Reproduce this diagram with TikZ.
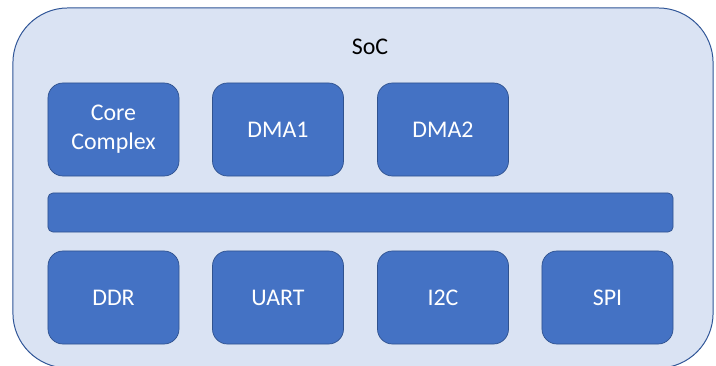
\documentclass[tikz,border=0pt]{standalone}
\usepackage{fontspec}
\setmainfont{Carlito}
\definecolor{socfill}{HTML}{DAE3F3}
\definecolor{socline}{HTML}{2F5597}
\definecolor{blockfill}{HTML}{4472C4}
\definecolor{blockline}{HTML}{2F528F}
\tikzset{
  soc/.style={draw=socline, fill=socfill, line width=0.7pt, rounded corners=1.375cm,
    minimum width=17.5cm, minimum height=9cm, inner sep=0pt},
  block/.style={draw=blockline, fill=blockfill, line width=0.5pt, rounded corners=0.375cm,
    minimum width=3.275cm, minimum height=2.325cm, inner sep=0pt, align=center,
    text=white, font=\fontsize{17}{20.6}\selectfont},
  busbar/.style={draw=blockline, fill=blockfill, line width=0.5pt, rounded corners=0.125cm,
    minimum width=15.625cm, minimum height=0.975cm, inner sep=0pt}
}
\begin{document}
\begin{tikzpicture}[x=0.025cm,y=-0.025cm]
        \useasboundingbox (0, 0) rectangle (716, 366);

        % SoC outline (its bottom edge runs off the page)
        \node[soc] (soc) at (363, 188) {};
        \node[font=\fontsize{17}{20.6}\selectfont] (soclabel) at (370, 47) {SoC};

        % Top row: masters
        \node[block] (core) at (113.5, 129.5) {Core\\Complex};
        \node[block] (dmaone) at (278, 129.5) {DMA1};
        \node[block] (dmatwo) at (443, 129.5) {DMA2};

        % Interconnect
        \node[busbar] (bus) at (360.5, 212.5) {};

        % Bottom row: slaves
        \node[block] (ddr) at (113.5, 297.5) {DDR};
        \node[block] (uart) at (278, 297.5) {UART};
        \node[block] (itwoc) at (443, 297.5) {I2C};
        \node[block] (spi) at (607.5, 297.5) {SPI};
    \end{tikzpicture}
\end{document}
